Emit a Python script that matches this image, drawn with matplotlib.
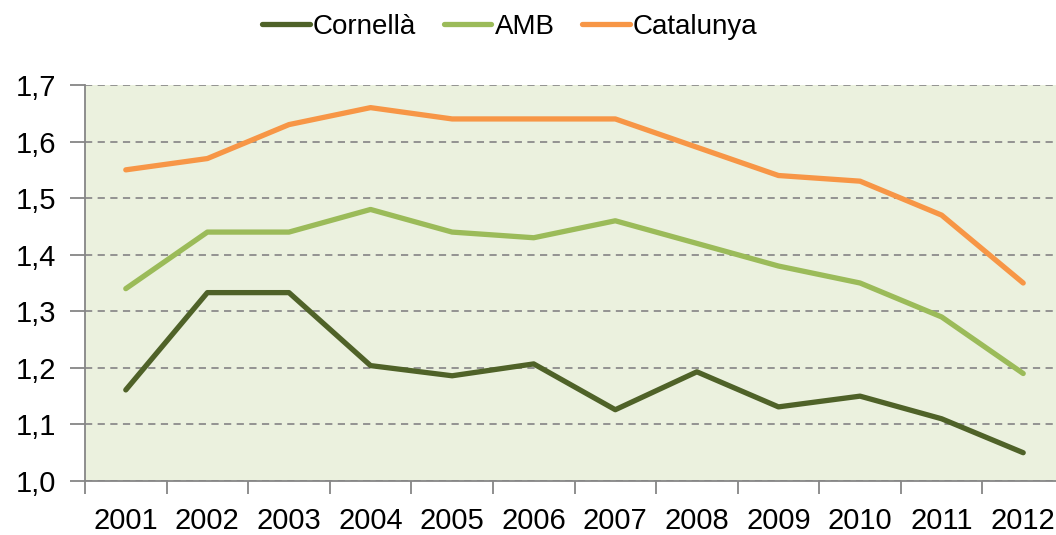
import matplotlib
matplotlib.use("Agg")
import matplotlib.pyplot as plt
from matplotlib import font_manager as fm

years = ["2001", "2002", "2003", "2004", "2005", "2006", "2007", "2008", "2009", "2010", "2011", "2012"]
cornella = [1.161, 1.333, 1.333, 1.204, 1.186, 1.207, 1.126, 1.193, 1.131, 1.150, 1.110, 1.050]
amb = [1.34, 1.44, 1.44, 1.48, 1.44, 1.43, 1.46, 1.42, 1.38, 1.35, 1.29, 1.19]
catalunya = [1.55, 1.57, 1.63, 1.66, 1.64, 1.64, 1.64, 1.59, 1.54, 1.53, 1.47, 1.35]
yticks = [1.0, 1.1, 1.2, 1.3, 1.4, 1.5, 1.6, 1.7]
ytick_labels = ["1,0", "1,1", "1,2", "1,3", "1,4", "1,5", "1,6", "1,7"]

names = {f.name for f in fm.fontManager.ttflist}
fam = "Liberation Sans Narrow" if "Liberation Sans Narrow" in names else "Liberation Sans"
plt.rcParams['font.family'] = [fam, 'DejaVu Sans']

W, H = 1056, 535
fig = plt.figure(figsize=(W / 100, H / 100), dpi=100)
ax = fig.add_axes([85 / W, 1 - 481 / H, (1064 - 85) / W, (481 - 85) / H])
ax.set_facecolor("#EBF1DE")

x = list(range(len(years)))
ax.plot(x, cornella, color="#4F6228", lw=3.8, label="Cornellà", solid_capstyle="round", solid_joinstyle="round")
ax.plot(x, amb, color="#9BBB59", lw=3.8, label="AMB", solid_capstyle="round", solid_joinstyle="round")
ax.plot(x, catalunya, color="#F79646", lw=3.8, label="Catalunya", solid_capstyle="round", solid_joinstyle="round")

ax.set_xlim(-0.5, len(years) - 0.5)
ax.set_ylim(1.0, 1.7)
ax.set_yticks(yticks)
ax.set_yticklabels(ytick_labels, fontsize=21)
ax.yaxis.grid(True, color="#8C8C8C", linestyle=(0, (4, 3)), lw=1.3)
ax.set_axisbelow(True)

ax.set_xticks([i - 0.5 for i in range(len(years) + 1)])
ax.set_xticklabels([])
ax.set_xticks(x, minor=True)
ax.set_xticklabels(years, minor=True, fontsize=21)
ax.tick_params(axis="x", which="major", length=9, width=1.3, color="#868686")
ax.tick_params(axis="x", which="minor", length=0, pad=19)
ax.tick_params(axis="y", length=11, width=1.3, color="#868686", pad=10)

for s in ["top", "right"]:
    ax.spines[s].set_visible(False)
for s in ["left", "bottom"]:
    ax.spines[s].set_color("#868686")
    ax.spines[s].set_linewidth(1.3)

fig.legend(loc="center", bbox_to_anchor=(510 / W, 1 - 27 / H), ncol=3, frameon=False,
           fontsize=20, handlelength=1.7, handletextpad=0.12, columnspacing=1.0)

fig.savefig("out.png", dpi=100)
